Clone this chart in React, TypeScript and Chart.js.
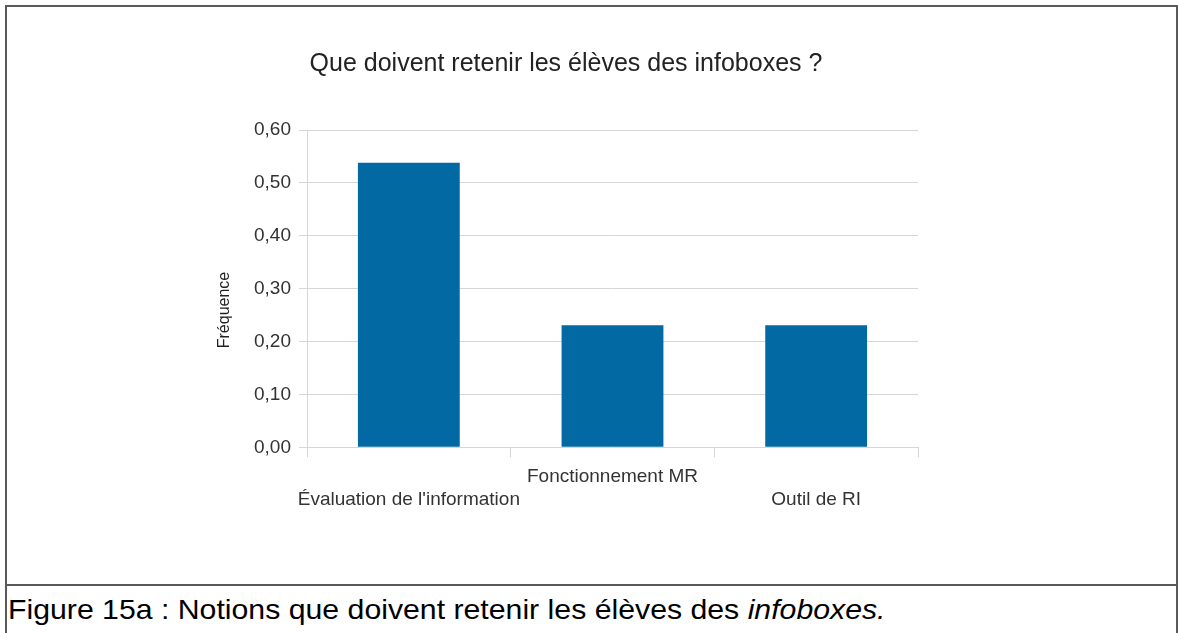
import React, { useEffect, useRef } from "react";
import { Chart, registerables } from "chart.js";

Chart.register(...registerables);

const categories: string[][] = [
  ["", "Évaluation de l'information"],
  ["Fonctionnement MR", ""],
  ["", "Outil de RI"],
];
const frequencies: number[] = [0.538, 0.231, 0.231];
const chartTitle = "Que doivent retenir les élèves des infoboxes ?";
const yAxisTitle = "Fréquence";
const captionMain = "Figure 15a : Notions que doivent retenir les élèves des ";
const captionItalic = "infoboxes.";
const yMin = 0;
const yMax = 0.6;
const yStep = 0.1;

const FONT = "'Liberation Sans', Arial, sans-serif";
const GRID = "#d6d6d6";
const TEXT = "#333333";

export default function App() {
  const canvasRef = useRef<HTMLCanvasElement | null>(null);

  useEffect(() => {
    const canvas = canvasRef.current;
    if (!canvas) return;

    const yTitlePlugin = {
      id: "yTitlePlugin",
      afterDraw(chart: any) {
        const ctx = chart.ctx;
        ctx.save();
        ctx.translate(218, 303);
        ctx.rotate(-Math.PI / 2);
        ctx.font = `16px ${FONT}`;
        ctx.fillStyle = "#222222";
        ctx.textAlign = "center";
        ctx.textBaseline = "middle";
        ctx.fillText(yAxisTitle, 0, 0);
        ctx.restore();
      },
    };

    const chart = new Chart(canvas, {
      type: "bar",
      data: {
        labels: categories,
        datasets: [
          {
            data: frequencies,
            backgroundColor: "#0369a3",
            borderWidth: 0,
            barPercentage: 0.5,
            categoryPercentage: 1,
          },
        ],
      },
      options: {
        responsive: false,
        animation: false,
        devicePixelRatio: 1,
        layout: { padding: 0 },
        plugins: {
          legend: { display: false },
          tooltip: { enabled: false },
          title: {
            display: true,
            text: chartTitle,
            color: "#222222",
            font: { family: FONT, size: 25, weight: "normal" },
            padding: { top: 42, bottom: 51 },
          },
        },
        scales: {
          x: {
            offset: true,
            border: { display: false },
            grid: {
              offset: true,
              drawOnChartArea: true,
              drawTicks: true,
              tickLength: 10,
              color: (ctx: any) =>
                ctx.index === 0 || ctx.index === categories.length ? GRID : "rgba(0,0,0,0)",
              tickColor: GRID,
            },
            ticks: {
              color: TEXT,
              padding: 7,
              maxRotation: 0,
              autoSkip: false,
              font: { family: FONT, size: 19, lineHeight: 1.26 },
            },
            afterFit: (scale: any) => {
              scale.height = 137.7;
            },
          },
          y: {
            min: yMin,
            max: yMax,
            border: { display: false },
            grid: {
              color: GRID,
              tickLength: 8,
              drawTicks: true,
            },
            ticks: {
              stepSize: yStep,
              color: TEXT,
              padding: 8,
              font: { family: FONT, size: 19 },
              callback: (v: any) => Number(v).toFixed(2).replace(".", ","),
            },
            afterFit: (scale: any) => {
              scale.width = 300;
            },
          },
          ySpacer: {
            position: "right",
            min: yMin,
            max: yMax,
            border: { display: false },
            grid: { display: false },
            ticks: { display: false },
            afterFit: (scale: any) => {
              scale.width = 207;
            },
          },
        },
      },
      plugins: [yTitlePlugin],
    });

    return () => {
      chart.destroy();
    };
  }, []);

  return (
    <div
      style={{
        position: "absolute",
        left: 0,
        top: 0,
        width: 1178,
        height: 633,
        overflow: "hidden",
        background: "#ffffff",
      }}
    >
      <div
        style={{
          position: "absolute",
          left: 5,
          top: 5,
          width: 1173,
          height: 660,
          border: "2px solid #5a5a5a",
          boxSizing: "border-box",
        }}
      />
      <div
        style={{
          position: "absolute",
          left: 5,
          top: 584,
          width: 1173,
          height: 2,
          background: "#5a5a5a",
        }}
      />
      <canvas
        ref={canvasRef}
        width={1118}
        height={578}
        style={{ position: "absolute", left: 7, top: 7, width: 1118, height: 578 }}
      />
      <div
        style={{
          position: "absolute",
          left: 8,
          top: 594,
          fontFamily: FONT,
          fontSize: 28,
          lineHeight: "32px",
          color: "#000000",
          whiteSpace: "nowrap",
          transform: "scaleX(1.08)",
          transformOrigin: "left center",
        }}
      >
        {captionMain}
        <i>{captionItalic}</i>
      </div>
    </div>
  );
}
